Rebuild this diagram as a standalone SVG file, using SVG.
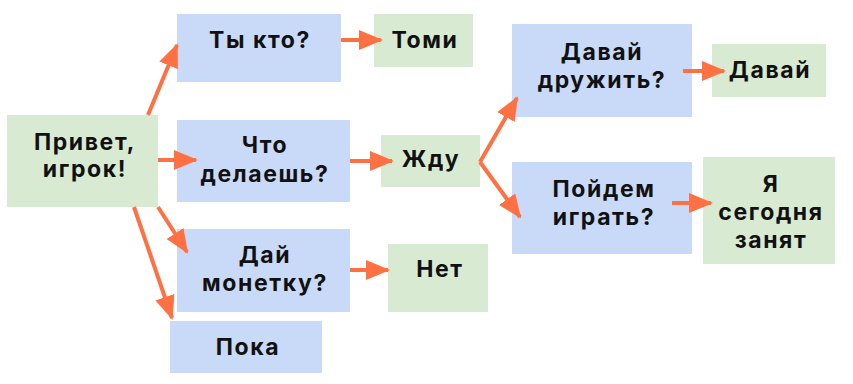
<svg xmlns="http://www.w3.org/2000/svg" width="853" height="384" viewBox="0 0 853 384">
<defs>
<style>
.b{fill:#c9daf8}
.g{fill:#d9ead3}
text{font-family:Inter,"Open Sans","Liberation Sans",sans-serif;font-weight:700;font-size:23px;letter-spacing:1.6px;fill:#111;text-anchor:middle}
.c line{stroke:#ff7043;stroke-width:4;marker-end:url(#ah)}
</style>
<marker id="ah" markerUnits="userSpaceOnUse" markerWidth="24" markerHeight="20" refX="22" refY="10" orient="auto">
<path d="M0,0 L24,10 L0,20 z" fill="#ff7043"/>
</marker>
</defs>
<rect width="853" height="384" fill="#fff"/>
<g id="privet"><rect class="g" x="7" y="115" width="151" height="92"/><text x="85" y="150">Привет,</text><text x="85" y="177">игрок!</text></g>
<g id="tykto"><rect class="b" x="177" y="14" width="164" height="68"/><text x="260" y="48">Ты кто?</text></g>
<g id="tomi"><rect class="g" x="374" y="14" width="99" height="53"/><text x="425" y="48">Томи</text></g>
<g id="chto"><rect class="b" x="177" y="120" width="173" height="82"/><text x="265" y="153">Что</text><text x="265" y="182">делаешь?</text></g>
<g id="zhdu"><rect class="g" x="381" y="135" width="99" height="52"/><text x="431" y="167">Жду</text></g>
<g id="dai"><rect class="b" x="177" y="229" width="173" height="83"/><text x="265" y="263">Дай</text><text x="265" y="291">монетку?</text></g>
<g id="net"><rect class="g" x="388" y="244" width="100" height="68"/><text x="440" y="277">Нет</text></g>
<g id="poka"><rect class="b" x="170" y="321" width="152" height="52"/><text x="248" y="355">Пока</text></g>
<g id="druzhit"><rect class="b" x="512" y="24" width="180" height="93"/><text x="602" y="60">Давай</text><text x="602" y="88">дружить?</text></g>
<g id="davai"><rect class="g" x="712" y="44" width="114" height="53"/><text x="770" y="78">Давай</text></g>
<g id="poidem"><rect class="b" x="512" y="162" width="180" height="92"/><text x="604" y="197">Пойдем</text><text x="604" y="225">играть?</text></g>
<g id="zanyat"><rect class="g" x="703" y="157" width="132" height="107"/><text x="771" y="192">Я</text><text x="771" y="220">сегодня</text><text x="771" y="248">занят</text></g>
<g id="connectors" class="c">
<line x1="148" y1="115" x2="177" y2="45"/>
<line x1="341" y1="40" x2="381" y2="40"/>
<line x1="158" y1="160" x2="196" y2="160"/>
<line x1="350" y1="161" x2="392" y2="161"/>
<line x1="158" y1="207" x2="187" y2="252"/>
<line x1="134" y1="207" x2="172" y2="318"/>
<line x1="350" y1="270" x2="388" y2="270"/>
<line x1="480" y1="162" x2="517" y2="98"/>
<line x1="480" y1="162" x2="520" y2="217"/>
<line x1="683" y1="71" x2="724" y2="71"/>
<line x1="672" y1="203" x2="711" y2="203"/>
</g>
</svg>
